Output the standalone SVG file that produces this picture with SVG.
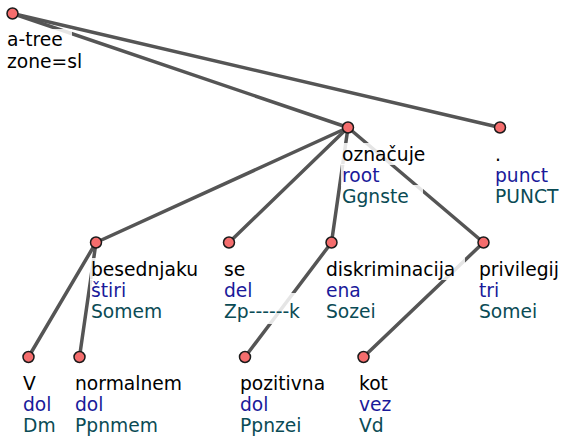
<svg xmlns="http://www.w3.org/2000/svg" width="562" height="436" viewBox="0 0 562 436">
<style>
.e{stroke:#555;stroke-width:3.5;stroke-linecap:round;fill:none}
.n{fill:#f46d6d;stroke:#1a1a1a;stroke-width:1.5}
.bg{fill:#fff;fill-opacity:0.85}
text{font-family:"DejaVu Sans",sans-serif;font-size:18.7px}
.w{fill:#000}
.d{fill:#1a1a9a}
.t{fill:#0a4b55}
</style>
<rect width="562" height="436" fill="#fff"/>
<g id="edges">
<line class="e" x1="12.5" y1="13.5" x2="348" y2="127.5"/>
<line class="e" x1="12.5" y1="13.5" x2="500" y2="127.5"/>
<line class="e" x1="348" y1="127.5" x2="96" y2="242.5"/>
<line class="e" x1="348" y1="127.5" x2="229" y2="242.5"/>
<line class="e" x1="348" y1="127.5" x2="331.5" y2="242.5"/>
<line class="e" x1="348" y1="127.5" x2="483.5" y2="242.5"/>
<line class="e" x1="96" y1="242.5" x2="28.5" y2="357"/>
<line class="e" x1="96" y1="242.5" x2="79.5" y2="357"/>
<line class="e" x1="331.5" y1="242.5" x2="245" y2="357"/>
<line class="e" x1="483.5" y1="242.5" x2="363.5" y2="357"/>
</g>
<g id="root">
<rect class="bg" x="6" y="29" width="66" height="22"/>
<rect class="bg" x="6" y="50" width="78" height="24"/>
<text x="7" y="46" class="w">a-tree</text>
<text x="7" y="68" class="w">zone=sl</text>
<circle class="n" cx="12.5" cy="13.5" r="5.5"/>
</g>
<g id="n-oznacuje">
<rect class="bg" x="341" y="143" width="86" height="22"/>
<rect class="bg" x="341" y="164" width="41" height="22"/>
<rect class="bg" x="341" y="185" width="82" height="24"/>
<text x="342" y="160.5" class="w">označuje</text>
<text x="342" y="181.5" class="d">root</text>
<text x="342" y="202.5" class="t">Ggnste</text>
<circle class="n" cx="348" cy="127.5" r="5.5"/>
</g>
<g id="n-punct">
<rect class="bg" x="494" y="143" width="9" height="22"/>
<rect class="bg" x="494" y="164" width="56" height="22"/>
<rect class="bg" x="494" y="185" width="66" height="24"/>
<text x="495" y="160.5" class="w">.</text>
<text x="495" y="181.5" class="d">punct</text>
<text x="495" y="202.5" class="t">PUNCT</text>
<circle class="n" cx="500" cy="127.5" r="5.5"/>
</g>
<g id="n-besednjaku">
<rect class="bg" x="90" y="258" width="111" height="22"/>
<rect class="bg" x="90" y="279" width="38" height="22"/>
<rect class="bg" x="90" y="300" width="74" height="24"/>
<text x="91" y="275.5" class="w">besednjaku</text>
<text x="91" y="296.5" class="d">štiri</text>
<text x="91" y="317.5" class="t">Somem</text>
<circle class="n" cx="96" cy="242.5" r="5.5"/>
</g>
<g id="n-se">
<rect class="bg" x="223" y="258" width="24" height="22"/>
<rect class="bg" x="223" y="279" width="31" height="22"/>
<rect class="bg" x="223" y="293" width="80" height="31"/>
<text x="224" y="275.5" class="w">se</text>
<text x="224" y="296.5" class="d">del</text>
<text x="224" y="317.5" class="t">Zp------k</text>
<circle class="n" cx="229" cy="242.5" r="5.5"/>
</g>
<g id="n-diskriminacija">
<rect class="bg" x="325" y="258" width="140" height="22"/>
<rect class="bg" x="325" y="279" width="37" height="22"/>
<rect class="bg" x="325" y="300" width="52" height="24"/>
<text x="326" y="275.5" class="w">diskriminacija</text>
<text x="326" y="296.5" class="d">ena</text>
<text x="326" y="317.5" class="t">Sozei</text>
<circle class="n" cx="331.5" cy="242.5" r="5.5"/>
</g>
<g id="n-privilegij">
<rect class="bg" x="478" y="258" width="83" height="22"/>
<rect class="bg" x="478" y="279" width="23" height="22"/>
<rect class="bg" x="478" y="300" width="61" height="24"/>
<text x="479" y="275.5" class="w">privilegij</text>
<text x="479" y="296.5" class="d">tri</text>
<text x="479" y="317.5" class="t">Somei</text>
<circle class="n" cx="483.5" cy="242.5" r="5.5"/>
</g>
<g id="n-V">
<rect class="bg" x="22" y="373" width="16" height="22"/>
<rect class="bg" x="22" y="394" width="31" height="22"/>
<rect class="bg" x="22" y="415" width="35" height="21"/>
<text x="23" y="390" class="w">V</text>
<text x="23" y="411" class="d">dol</text>
<text x="23" y="432" class="t">Dm</text>
<circle class="n" cx="28.5" cy="357" r="5.5"/>
</g>
<g id="n-normalnem">
<rect class="bg" x="74" y="373" width="110" height="22"/>
<rect class="bg" x="74" y="394" width="31" height="22"/>
<rect class="bg" x="74" y="415" width="86" height="21"/>
<text x="75" y="390" class="w">normalnem</text>
<text x="75" y="411" class="d">dol</text>
<text x="75" y="432" class="t">Ppnmem</text>
<circle class="n" cx="79.5" cy="357" r="5.5"/>
</g>
<g id="n-pozitivna">
<rect class="bg" x="239" y="373" width="88" height="22"/>
<rect class="bg" x="239" y="394" width="31" height="22"/>
<rect class="bg" x="239" y="415" width="64" height="21"/>
<text x="240" y="390" class="w">pozitivna</text>
<text x="240" y="411" class="d">dol</text>
<text x="240" y="432" class="t">Ppnzei</text>
<circle class="n" cx="245" cy="357" r="5.5"/>
</g>
<g id="n-kot">
<rect class="bg" x="358" y="373" width="32" height="22"/>
<rect class="bg" x="358" y="394" width="35" height="22"/>
<rect class="bg" x="358" y="415" width="27" height="21"/>
<text x="359" y="390" class="w">kot</text>
<text x="359" y="411" class="d">vez</text>
<text x="359" y="432" class="t">Vd</text>
<circle class="n" cx="363.5" cy="357" r="5.5"/>
</g>
</svg>
